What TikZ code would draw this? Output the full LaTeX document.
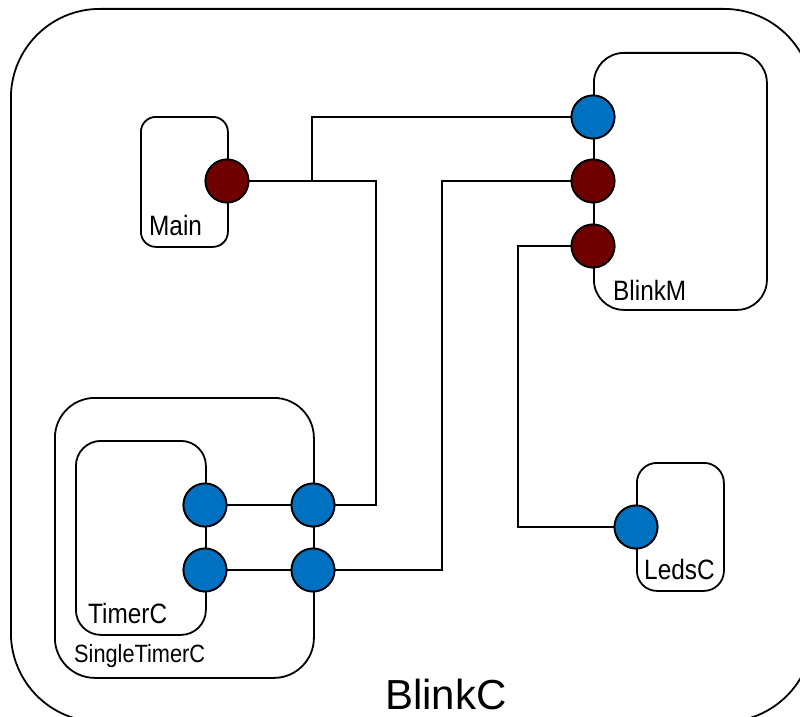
\documentclass[tikz,border=0pt]{standalone}
\usepackage{fontspec}
\newfontfamily\labfont[FakeStretch=0.87]{Liberation Sans}
\newfontfamily\titlefont{Liberation Sans}
\definecolor{portblue}{RGB}{0,112,192}
\definecolor{portred}{RGB}{112,0,0}
\tikzset{
  box/.style={draw, line width=1.8pt, rounded corners=#1, inner sep=0pt, anchor=north west},
  port/.style={circle, draw, line width=1.8pt, minimum size=43pt, inner sep=0pt},
  blueport/.style={port, fill=portblue},
  redport/.style={port, fill=portred},
  wire/.style={line width=1.8pt},
  lab/.style={inner sep=0pt, anchor=base west, font=\labfont\fontsize{28}{30}\selectfont},
  smalllab/.style={inner sep=0pt, anchor=base west, font=\labfont\fontsize{25}{27}\selectfont},
}
\begin{document}
\begin{tikzpicture}[x=1pt, y=-1pt]
\useasboundingbox (0,0) rectangle (800,717);
\clip (0,0) rectangle (800,717);

% outer configuration
\node[box=89pt, minimum width=802pt, minimum height=713pt] (blinkc) at (10,8) {};
\node[inner sep=0pt, anchor=base west, font=\titlefont\fontsize{42}{44}\selectfont] (blinkclab) at (385,709) {BlinkC};

% bend points of the wiring
\coordinate (tee) at (312,181);
\coordinate (k1) at (376,505);
\coordinate (k2) at (442,570);
\coordinate (k3) at (518,527);

% components
\node[box=15pt, minimum width=87pt, minimum height=130pt] (main) at (140,116) {};
\node[box=30pt, minimum width=173pt, minimum height=257pt] (blinkm) at (593,52) {};
\node[box=40pt, minimum width=259pt, minimum height=280pt] (single) at (54,397) {};
\node[box=25pt, minimum width=130pt, minimum height=194pt] (timerc) at (75,440) {};
\node[box=20pt, minimum width=87pt, minimum height=128pt] (ledsc) at (636,462) {};

% ports
\node[redport] (mainp) at (227,181) {};
\node[blueport] (bmA) at (593,117) {};
\node[redport] (bmB) at (593,181) {};
\node[redport] (bmC) at (593,246) {};
\node[blueport] (tA) at (205,505) {};
\node[blueport] (tB) at (205,570) {};
\node[blueport] (stA) at (313,505) {};
\node[blueport] (stB) at (313,570) {};
\node[blueport] (ledp) at (636,527) {};

% wiring
\draw[wire] (mainp) -| (k1) -- (stA);
\draw[wire] (tee) |- (bmA);
\draw[wire] (bmB) -| (k2) -- (stB);
\draw[wire] (bmC) -| (k3) -- (ledp);
\draw[wire] (tA) -- (stA);
\draw[wire] (tB) -- (stB);

% redraw ports above the wires
\node[redport] at (mainp) {};
\node[blueport] at (bmA) {};
\node[redport] at (bmB) {};
\node[redport] at (bmC) {};
\node[blueport] at (tA) {};
\node[blueport] at (tB) {};
\node[blueport] at (stA) {};
\node[blueport] at (stB) {};
\node[blueport] at (ledp) {};

% labels
\node[lab] (mainlab) at (149,235) {Main};
\node[lab] (blinkmlab) at (613,300) {BlinkM};
\node[lab] (timerlab) at (88,623) {TimerC};
\node[smalllab] (singlelab) at (74,662) {SingleTimerC};
\node[lab] (ledslab) at (644,579) {LedsC};
\end{tikzpicture}
\end{document}
